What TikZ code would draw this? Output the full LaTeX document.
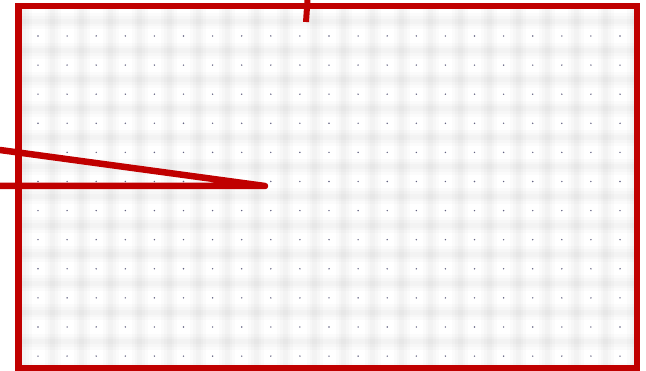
\documentclass[tikz,border=0pt]{standalone}
\usepackage{xcolor}
\definecolor{framered}{RGB}{192,0,0}
\definecolor{dotgray}{RGB}{100,100,130}
\begin{document}
\begin{tikzpicture}[x=1pt,y=-1pt]
\useasboundingbox (0,0) rectangle (646,371);
% soft cell borders
\begin{scope}
\clip (21.5,9) rectangle (634,365);
\foreach \i in {0,...,21}
  \foreach \w in {16,10,5}
    \draw[black,opacity=0.014,line width=\w] (23.5+29.1*\i,0)--(23.5+29.1*\i,371);
\foreach \j in {0,...,12}
  \foreach \w in {16,10,5}
    \draw[black,opacity=0.014,line width=\w] (0,21.5+29.1*\j)--(646,21.5+29.1*\j);
\end{scope}
% dots
\foreach \i in {0,...,20}
  \foreach \j in {0,...,11}
    \fill[dotgray] (38+29.1*\i,36+29.1*\j) circle (0.8);
% frame
\draw[framered,line width=6.5](18.5,6) rectangle (637,368);
% lines
\coordinate (tip) at (265,186);
\coordinate (upper) at (0,150);
\coordinate (lower) at (0,186);
\coordinate (top1) at (307.5,0);
\coordinate (top2) at (306,22);
\draw[framered,line width=6.5,line cap=round,line join=round](upper)--(tip)--(lower);
\draw[framered,line width=6](top1)--(top2);
\end{tikzpicture}
\end{document}
